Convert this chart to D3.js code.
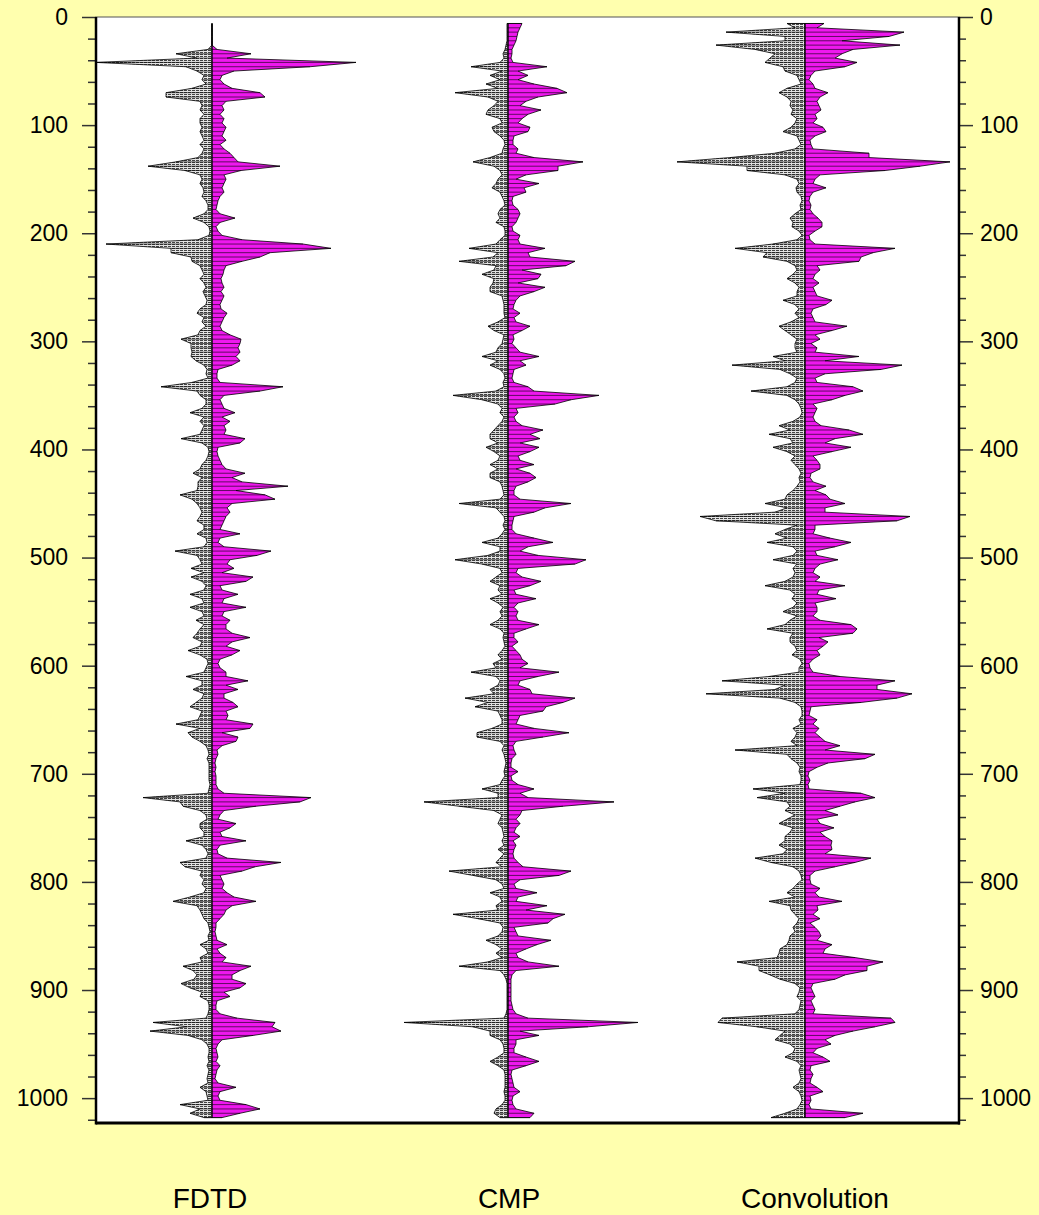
<!DOCTYPE html>
<html><head><meta charset="utf-8">
<script src="https://cdn.jsdelivr.net/npm/d3@7"></script>
<style>html,body{margin:0;padding:0;background:#FFFFAE;} svg{display:block}</style>
</head><body><svg id="c" width="1039" height="1215"></svg>
<script>
// ---- data ----
// Each trace is given as its positive and negative excursion (px-like amplitude units)
// in depth bins: bin i is centred on depth = depthStart + i*depthStep.
const traceNames = ["FDTD", "CMP", "Convolution"];
const depthStart = 6, depthStep = 4;
const majorTicks = [0,100,200,300,400,500,600,700,800,900,1000];
const minorTicks = [20,40,60,80,120,140,160,180,220,240,260,280,320,340,360,380,420,440,460,480,520,540,560,580,620,640,660,680,720,740,760,780,820,840,860,880,920,940,960,980,1020];

const fdtdPos = [
 0,0,0,0,0,0,5,39,15,144,98,22,10,8,12,20,48,53,14,10,12,8,12,10,14,
 12,10,14,8,12,18,22,26,68,29,12,14,12,10,12,8,6,5,4,8,23,8,4,6,10,
 30,91,119,58,48,30,14,12,11,9,10,12,9,12,10,8,9,15,12,10,8,10,18,29,28,
 26,28,24,28,20,6,5,5,8,71,48,12,8,10,12,23,10,18,12,14,12,33,28,6,5,
 6,8,10,14,33,20,30,76,24,53,63,20,15,18,14,12,10,8,28,8,6,12,59,45,18,
 15,22,10,41,34,8,10,26,12,10,34,12,10,18,14,14,20,38,20,14,28,20,8,6,8,
 14,14,36,14,26,12,12,21,26,14,16,14,41,38,10,26,24,10,5,6,4,3,4,3,4,
 4,4,6,12,99,88,44,12,8,6,24,18,8,10,34,8,5,6,15,69,43,30,8,10,12,
 10,15,22,44,20,14,12,8,4,4,3,4,5,15,5,8,14,10,39,28,20,20,34,28,12,
 18,5,4,4,8,25,63,60,69,41,10,6,4,5,6,4,8,5,4,3,6,24,8,6,8,
 34,48,28,10
];
const fdtdNeg = [
 0,0,0,0,0,0,-4,-36,-15,-116,-26,-15,-8,-10,-6,-20,-46,-46,-12,-10,-12,-8,-12,-12,-10,
 -12,-10,-8,-12,-8,-10,-14,-36,-64,-27,-12,-10,-12,-9,-8,-10,-6,-4,-4,-8,-19,-8,-3,-2,-3,
 -14,-106,-41,-41,-21,-20,-12,-10,-8,-12,-8,-6,-9,-7,-5,-6,-12,-15,-8,-10,-6,-12,-14,-31,-21,
 -21,-20,-21,-16,-8,-5,-6,-4,-20,-51,-15,-12,-6,-6,-10,-22,-8,-12,-8,-10,-12,-31,-10,-4,-3,
 -4,-6,-10,-12,-19,-10,-14,-14,-15,-32,-20,-15,-12,-10,-12,-15,-8,-8,-15,-6,-5,-8,-37,-15,-12,
 -10,-21,-8,-21,-10,-6,-8,-22,-10,-8,-22,-10,-8,-16,-8,-12,-15,-19,-10,-12,-24,-12,-5,-4,-6,
 -8,-26,-10,-10,-19,-8,-10,-16,-22,-10,-12,-14,-36,-12,-24,-20,-12,-6,-4,-3,-5,-3,-3,-3,-3,
 -3,-2,-3,-4,-69,-32,-29,-12,-6,-5,-12,-12,-8,-8,-26,-10,-6,-4,-6,-32,-27,-10,-12,-8,-10,
 -6,-8,-22,-39,-15,-12,-10,-8,-4,-3,-2,-4,-3,-12,-6,-4,-12,-10,-29,-19,-15,-18,-31,-22,-10,
 -12,-4,-3,-3,-4,-6,-59,-25,-62,-24,-10,-5,-3,-3,-4,-3,-5,-3,-4,-5,-4,-12,-6,-5,-4,
 -32,-12,-22,-8
];
const cmpPos = [
 14,12,10,9,8,6,4,4,3,5,39,10,20,10,26,49,59,30,18,12,33,20,14,10,22,
 20,6,5,5,10,8,26,75,50,50,18,8,31,16,18,5,4,5,10,12,10,8,4,5,12,
 10,12,37,20,22,67,58,14,33,30,10,37,26,12,8,6,5,12,6,8,22,14,5,6,4,
 8,12,31,12,18,6,5,4,6,20,26,91,63,47,8,10,6,8,14,35,22,32,12,31,22,
 10,12,26,8,22,28,20,8,6,6,12,63,37,26,6,5,4,4,8,26,45,20,12,30,78,
 67,10,8,14,33,22,6,8,28,10,6,10,8,10,31,18,6,6,10,4,8,12,14,20,12,
 51,30,12,10,22,24,67,55,38,35,12,10,8,26,61,35,8,5,6,8,4,3,3,10,3,
 4,10,26,12,20,106,55,14,12,8,12,8,6,12,5,8,6,5,6,10,15,63,51,12,6,
 8,29,10,8,39,18,57,45,40,6,8,10,43,29,18,8,10,20,51,8,4,3,3,3,3,
 3,3,4,5,8,20,130,80,12,31,8,8,6,6,18,31,18,4,3,4,5,6,12,5,4,
 5,8,26,22
];
const cmpNeg = [
 -1,-1,-1,-1,-1,-2,-3,-5,-4,-8,-37,-6,-18,-8,-22,-10,-53,-20,-10,-14,-20,-22,-8,-6,-16,
 -14,-8,-4,-3,-5,-6,-18,-35,-14,-8,-6,-10,-12,-16,-8,-6,-4,-3,-8,-10,-8,-12,-4,-3,-3,
 -8,-12,-39,-10,-15,-49,-12,-14,-26,-14,-15,-18,-18,-6,-5,-4,-4,-4,-3,-10,-20,-14,-4,-5,-6,
 -10,-12,-26,-10,-18,-8,-4,-3,-5,-4,-12,-55,-26,-10,-6,-8,-4,-6,-10,-14,-18,-18,-10,-22,-14,
 -8,-10,-18,-10,-18,-18,-8,-6,-5,-4,-8,-49,-12,-8,-4,-3,-5,-3,-6,-10,-26,-8,-8,-20,-53,
 -26,-8,-6,-12,-18,-8,-10,-6,-18,-10,-5,-8,-6,-10,-18,-8,-4,-5,-4,-3,-6,-10,-6,-15,-12,
 -37,-12,-8,-10,-18,-14,-43,-20,-33,-10,-8,-6,-6,-16,-31,-31,-8,-4,-6,-4,-3,-2,-3,-4,-3,
 -6,-8,-26,-10,-10,-84,-49,-14,-6,-8,-10,-6,-5,-4,-6,-4,-10,-4,-8,-12,-6,-59,-35,-12,-6,
 -4,-18,-8,-6,-12,-10,-55,-30,-8,-5,-6,-10,-22,-12,-6,-12,-6,-20,-49,-8,-4,-2,-1,-1,-1,
 -1,-1,-1,-1,-2,-4,-104,-35,-18,-18,-8,-5,-4,-4,-10,-18,-10,-4,-3,-3,-3,-3,-4,-3,-3,
 -6,-12,-14,-8
];
const convPos = [
 19,12,99,84,37,95,48,37,30,52,40,10,6,4,8,10,23,15,12,14,16,10,12,8,18,
 21,10,5,6,8,64,64,145,115,80,15,10,8,21,8,5,4,6,5,8,13,17,17,10,4,
 5,10,90,68,56,54,12,15,10,8,14,8,10,12,27,21,8,6,8,10,42,27,10,15,6,
 12,10,54,20,97,76,20,10,12,48,58,40,27,8,12,10,8,10,16,44,58,30,20,46,27,
 8,12,15,15,6,5,8,21,10,21,25,40,20,20,105,92,10,10,8,25,46,30,10,12,33,
 15,10,8,15,10,40,14,12,31,10,12,12,8,15,46,52,48,14,23,18,12,15,8,4,5,
 8,35,90,72,72,107,92,56,6,5,4,12,8,14,10,15,20,35,20,70,60,23,12,4,3,
 5,3,4,56,70,50,35,20,33,12,15,29,15,20,27,26,27,20,66,50,30,10,5,5,6,
 15,10,14,37,12,13,8,15,5,10,14,16,12,27,20,18,50,78,62,62,40,30,8,6,8,
 10,6,8,10,8,86,90,70,48,30,20,26,12,8,18,25,6,5,8,6,5,12,18,5,6,
 4,6,58,40
];
const convNeg = [
 -18,-10,-79,-20,-20,-89,-50,-30,-35,-40,-22,-20,-8,-6,-4,-18,-26,-18,-14,-15,-12,-14,-8,-10,-14,
 -22,-8,-6,-4,-10,-30,-75,-128,-58,-58,-20,-8,-6,-9,-8,-4,-3,-5,-4,-10,-15,-12,-13,-6,-3,
 -8,-32,-70,-38,-42,-18,-10,-8,-12,-18,-10,-6,-8,-8,-22,-10,-6,-10,-6,-14,-26,-20,-14,-8,-10,
 -10,-8,-32,-20,-73,-25,-15,-8,-10,-18,-54,-18,-10,-6,-4,-3,-5,-12,-26,-15,-36,-15,-12,-32,-18,
 -10,-14,-10,-6,-4,-6,-5,-8,-12,-18,-20,-40,-18,-30,-105,-89,-8,-20,-30,-18,-38,-12,-8,-12,-32,
 -8,-12,-10,-12,-20,-40,-15,-10,-13,-8,-12,-22,-8,-15,-20,-38,-12,-15,-15,-10,-8,-13,-5,-3,-6,
 -6,-36,-83,-20,-30,-99,-25,-10,-4,-3,-3,-6,-4,-12,-8,-10,-14,-8,-70,-18,-14,-8,-5,-6,-4,
 -4,-5,-52,-20,-48,-18,-15,-20,-10,-18,-26,-12,-15,-20,-20,-26,-18,-22,-50,-34,-12,-6,-4,-3,-8,
 -12,-18,-10,-36,-15,-14,-10,-6,-8,-12,-10,-15,-16,-18,-25,-26,-28,-68,-46,-46,-35,-25,-10,-5,-6,
 -8,-4,-5,-6,-10,-83,-87,-48,-20,-25,-30,-15,-10,-12,-20,-8,-4,-6,-5,-4,-6,-12,-6,-4,-3,
 -5,-8,-20,-34
];
const tracePos = [fdtdPos, cmpPos, convPos];
const traceNeg = [fdtdNeg, cmpNeg, convNeg];

// ---- layout ----
const W = 1039, H = 1215;
const plot = {left: 96, right: 959, top: 17, bottom: 1123};
const centers = [212, 508, 805];
const FONT = "'Liberation Sans', Arial, Helvetica, sans-serif";

const svg = d3.select("#c");
svg.append("rect").attr("width", W).attr("height", H).attr("fill", "#FFFFAE");

const y = d3.scaleLinear().domain([0, 1023]).range([plot.top, plot.bottom]);

const defs = svg.append("defs");
const pat = defs.append("pattern").attr("id", "hatch").attr("patternUnits", "userSpaceOnUse")
  .attr("width", 4).attr("height", 2);
pat.append("rect").attr("width", 4).attr("height", 2).attr("fill", "#e4e4e4");
pat.append("rect").attr("width", 3).attr("height", 1).attr("fill", "#444");

// plot area
svg.append("rect").attr("x", plot.left).attr("y", plot.top)
  .attr("width", plot.right - plot.left).attr("height", plot.bottom - plot.top)
  .attr("fill", "#ffffff").attr("stroke", "#555").attr("stroke-width", 1);

// traces
tracePos.forEach((pos, k) => {
  const neg = traceNeg[k];
  const c = centers[k];
  const x = d3.scaleLinear().domain([-150, 150]).range([c - 150, c + 150]);
  const data = pos.map((p, i) => ({depth: depthStart + i * depthStep, p, n: neg[i]}));
  const g = svg.append("g");
  g.append("path").datum(data)
    .attr("d", d3.area().y(d => y(d.depth)).x0(d => x(d.n)).x1(x(0)))
    .attr("fill", "url(#hatch)").attr("stroke", "#000").attr("stroke-width", 0.8);
  g.append("path").datum(data)
    .attr("d", d3.area().y(d => y(d.depth)).x0(x(0)).x1(d => x(d.p)))
    .attr("fill", "#ee18ee").attr("stroke", "#000").attr("stroke-width", 0.8);
  // striation: one horizontal stroke per depth bin, spanning the bin's excursion
  g.selectAll("line.stick").data(data.filter(d => d.p - d.n > 0)).join("line").attr("class", "stick")
    .attr("x1", d => x(d.n)).attr("x2", d => x(d.p))
    .attr("y1", d => y(d.depth)).attr("y2", d => y(d.depth))
    .attr("stroke", "#000").attr("stroke-width", 0.8).attr("stroke-opacity", 0.75);
  g.append("line").attr("x1", x(0)).attr("x2", x(0))
    .attr("y1", y(depthStart)).attr("y2", y(depthStart + (pos.length - 1) * depthStep))
    .attr("stroke", "#000").attr("stroke-width", 1);
});

// axes
function styleAxis(g) {
  g.select(".domain").remove();
  g.selectAll(".tick line").attr("stroke", "#333").attr("stroke-width", 1.5);
  g.selectAll(".tick text").attr("font-family", FONT).attr("font-size", 23).attr("fill", "#000");
}
svg.append("g").attr("transform", `translate(${plot.left},0)`)
  .call(d3.axisLeft(y).tickValues(majorTicks).tickSize(14).tickPadding(14).tickFormat(d3.format("d"))).call(styleAxis);
svg.append("g").attr("transform", `translate(${plot.left},0)`)
  .call(d3.axisLeft(y).tickValues(minorTicks).tickSize(8).tickFormat("")).call(styleAxis);
svg.append("g").attr("transform", `translate(${plot.right},0)`)
  .call(d3.axisRight(y).tickValues(majorTicks).tickSize(14).tickPadding(7).tickFormat(d3.format("d"))).call(styleAxis);
svg.append("g").attr("transform", `translate(${plot.right},0)`)
  .call(d3.axisRight(y).tickValues(minorTicks).tickSize(7).tickFormat("")).call(styleAxis);

// frame lines
svg.append("line").attr("x1", plot.left).attr("x2", plot.left).attr("y1", plot.top).attr("y2", plot.bottom + 1.5)
  .attr("stroke", "#000").attr("stroke-width", 2.5);
svg.append("line").attr("x1", plot.right).attr("x2", plot.right).attr("y1", plot.top).attr("y2", plot.bottom + 1.5)
  .attr("stroke", "#000").attr("stroke-width", 2.5);
svg.append("line").attr("x1", plot.left).attr("x2", plot.right + 1).attr("y1", plot.bottom).attr("y2", plot.bottom)
  .attr("stroke", "#000").attr("stroke-width", 3);

// trace labels
const labelX = [210, 509, 815];
svg.selectAll("text.lbl").data(traceNames).join("text").attr("class", "lbl")
  .attr("x", (d, i) => labelX[i]).attr("y", 1208).attr("text-anchor", "middle")
  .attr("font-family", FONT).attr("font-size", 28).attr("fill", "#000").text(d => d);
</script></body></html>
